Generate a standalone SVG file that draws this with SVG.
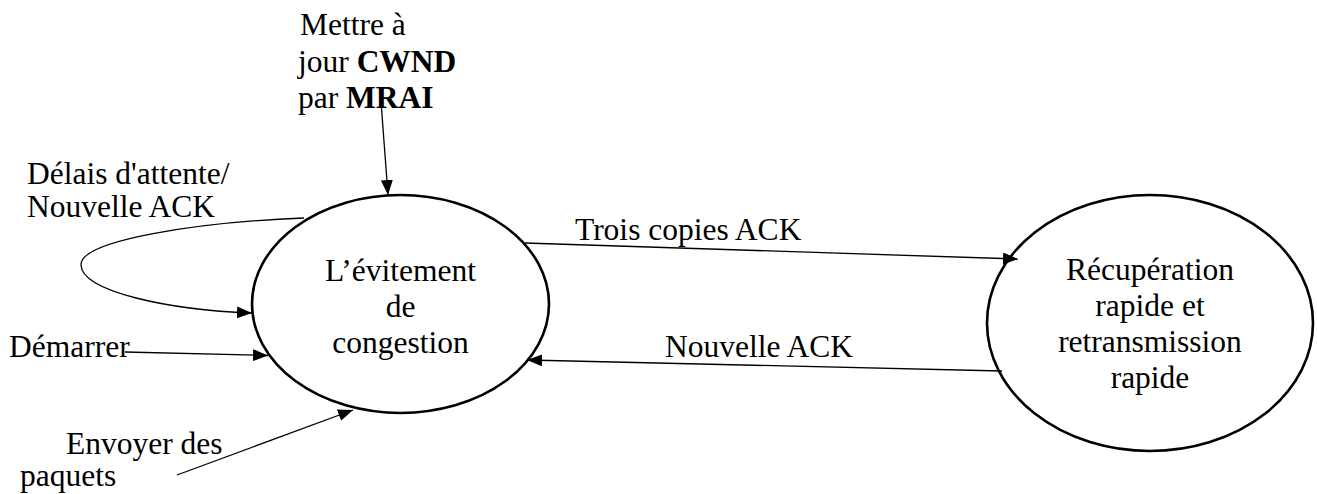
<svg xmlns="http://www.w3.org/2000/svg" width="1317" height="494" viewBox="0 0 1317 494" font-family="'Liberation Serif', 'Times New Roman', Tinos, 'DejaVu Serif', serif">
  <style>
    text { font-family: "Liberation Serif", "Times New Roman", Tinos, "DejaVu Serif", serif; font-size: 31.5px; fill: #000; }
    .c { text-anchor: middle; }
    .state { fill: #fff; stroke: #000; stroke-width: 2.6; }
    .edge { fill: none; stroke: #000; stroke-width: 1.3; marker-end: url(#arrow); }
    .b { font-weight: bold; }
  </style>
  <defs>
    <marker id="arrow" viewBox="0 0 15 12" refX="15" refY="6" markerWidth="15" markerHeight="12" markerUnits="userSpaceOnUse" orient="auto">
      <path d="M0,0 L15,6 L0,12 Z" fill="#000"/>
    </marker>
  </defs>

  <rect width="1317" height="494" fill="#fff"/>

  <!-- states -->
  <g id="node-evitement">
    <ellipse class="state" cx="400.5" cy="304" rx="148.5" ry="109"/>
    <text class="c" x="400.5" y="281" font-family="Liberation Serif, serif">L’évitement</text>
    <text class="c" x="400.5" y="317" font-family="Liberation Serif, serif">de</text>
    <text class="c" x="400.5" y="353" font-family="Liberation Serif, serif">congestion</text>
  </g>

  <g id="node-recuperation">
    <ellipse class="state" cx="1150" cy="323" rx="163" ry="128"/>
    <text class="c" x="1150" y="280" font-family="Liberation Serif, serif">Récupération</text>
    <text class="c" x="1150" y="316" font-family="Liberation Serif, serif">rapide et</text>
    <text class="c" x="1150" y="352" font-family="Liberation Serif, serif">retransmission</text>
    <text class="c" x="1150" y="388" font-family="Liberation Serif, serif">rapide</text>
  </g>

  <!-- transitions -->
  <g id="connectors">
    <line class="edge" x1="380" y1="88" x2="388" y2="195"/>
    <path class="edge" d="M304,218 C200,222 80,240 81,265 C82,292 170,310 252,313"/>
    <line class="edge" x1="125" y1="352" x2="268" y2="355.5"/>
    <line class="edge" x1="177" y1="475" x2="353" y2="410"/>
    <line class="edge" x1="525" y1="243" x2="1018" y2="259"/>
    <line class="edge" x1="1002" y1="371" x2="527" y2="360"/>
  </g>

  <!-- transition labels -->
  <g id="labels">
    <text x="300" y="35">Mettre à</text>
    <text x="298" y="72">jour <tspan class="b">CWND</tspan></text>
    <text x="298" y="108">par <tspan class="b">MRAI</tspan></text>
    <text x="27" y="184">Délais d'attente/</text>
    <text x="27" y="217">Nouvelle ACK</text>
    <text x="9" y="357">Démarrer</text>
    <text x="66" y="454">Envoyer des</text>
    <text x="20" y="486">paquets</text>
    <text x="575" y="240">Trois copies ACK</text>
    <text x="665" y="357">Nouvelle ACK</text>
  </g>
</svg>
